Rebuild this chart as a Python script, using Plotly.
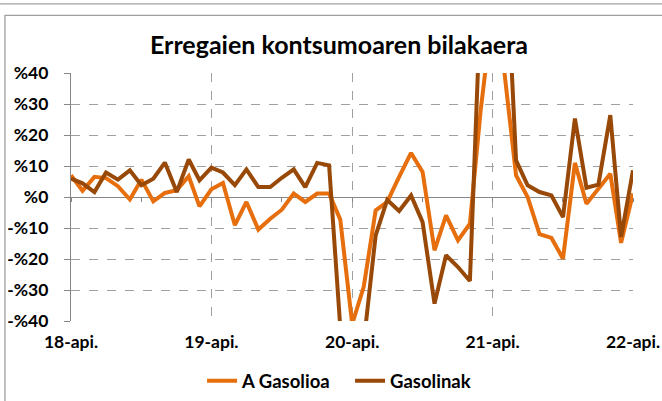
import plotly.graph_objects as go
import pandas as pd

dates = pd.date_range("2018-04-01", "2022-04-01", freq="MS")

a_gasolioa = [7.0, 2.0, 6.5, 6.1, 3.5, -0.8, 5.6, -1.4, 1.3, 2.2, 6.7, -3.0,
              2.5, 4.5, -9.1, -1.6, -10.5, -7.0, -4.1, 1.1, -1.6, 1.1, 1.1, -7.3,
              -41.0, -29.0, -4.3, -1.6, 6.5, 14.2, 8.1, -17.2, -5.9, -14.0, -8.6, 28.0,
              60.0, 41.0, 7.0, 0.0, -12.0, -13.2, -19.9, 11.0, -2.2, 2.7, 7.5, -14.8,
              1.1]
gasolinak = [5.9, 4.4, 1.6, 7.9, 5.6, 8.6, 3.8, 5.9, 11.1, 1.6, 12.1, 5.4,
             9.5, 7.9, 3.8, 8.9, 3.2, 3.2, 6.2, 8.9, 3.2, 11.0, 10.2, -42.0,
             -75.0, -47.0, -12.4, -0.9, -4.5, 0.5, -8.1, -34.4, -18.8, -22.6, -27.1, 64.0,
             240.0, 92.0, 11.8, 3.8, 1.6, 0.5, -6.5, 25.3, 3.0, 4.0, 26.4, -12.9,
             8.6]

x_tickvals = ["2018-04-01", "2019-04-01", "2020-04-01", "2021-04-01", "2022-04-01"]
x_ticktext = ["18-api.", "19-api.", "20-api.", "21-api.", "22-api."]
minor_tickvals = pd.date_range("2018-04-01", "2022-04-01", freq="6MS")
y_tickvals = [40, 30, 20, 10, 0, -10, -20, -30, -40]
y_ticktext = ["%40", "%30", "%20", "%10", "%0", "-%10", "-%20", "-%30", "-%40"]

ORANGE = "#E66E0C"
BROWN = "#984807"
GRID = "#A0A0A0"
AXIS = "#868686"
FONT = "Lato"

W, H = 662, 401
L, R, T, B = 71, 632.7, 72.7, 320.7
PW, PH = R - L, B - T

def px_x(p):
    return (p - L) / PW

def px_y(p):
    return (B - p) / PH

fig = go.Figure()
fig.add_trace(go.Scatter(x=dates, y=a_gasolioa, name="A Gasolioa", mode="lines",
                         line=dict(color=ORANGE, width=4)))
fig.add_trace(go.Scatter(x=dates, y=gasolinak, name="Gasolinak", mode="lines",
                         line=dict(color=BROWN, width=4)))
# helper trace for the tick axis on the zero line
fig.add_trace(go.Scatter(x=[dates[0]], y=[None], xaxis="x2", showlegend=False,
                         hoverinfo="skip", mode="lines"))

fig.update_layout(
    width=W, height=H,
    margin=dict(l=L, r=W - R, t=T, b=H - B, pad=0, autoexpand=False),
    paper_bgcolor="white", plot_bgcolor="white",
    font=dict(family=FONT, size=17.5, color="black", weight="bold"),
    title=dict(text="Erregaien kontsumoaren bilakaera", x=339 / W, xref="container",
               xanchor="center", y=1 - 45 / H, yref="container", yanchor="middle",
               font=dict(family=FONT, size=25, color="black", weight="bold")),
    showlegend=True,
    legend=dict(orientation="h", x=px_x(202), xanchor="left", y=px_y(381),
                yanchor="middle", font=dict(family=FONT, size=18.5, weight="bold"),
                itemwidth=30, tracegroupgap=0, entrywidth=103),
    xaxis=dict(type="date", range=["2018-04-01", "2022-04-01"],
               tickvals=x_tickvals, ticktext=x_ticktext, ticks="",
               showgrid=True, gridcolor=GRID, griddash="dash", gridwidth=1.4,
               showline=False, zeroline=False, ticklabelstandoff=8,
               tickfont=dict(family=FONT, size=17.5, weight="bold")),
    xaxis2=dict(type="date", range=["2018-04-01", "2022-04-01"], overlaying="x",
                anchor="free", position=0.5, side="bottom",
                tickvals=minor_tickvals, ticks="outside", ticklen=4, tickwidth=1.3,
                tickcolor=AXIS, showticklabels=False, showgrid=False,
                showline=False, zeroline=False),
    yaxis=dict(range=[-40, 40], tickvals=y_tickvals, ticktext=y_ticktext,
               ticks="outside", ticklen=6, tickwidth=1.3, tickcolor=AXIS,
               showline=True, linecolor=AXIS, linewidth=1.3,
               showgrid=True, gridcolor=GRID, griddash="dash", gridwidth=1.4,
               zeroline=True, zerolinecolor=AXIS, zerolinewidth=1.3,
               ticklabelstandoff=12,
               tickfont=dict(family=FONT, size=17.5, weight="bold")),
)

# chart-area frame (Excel style) and the rule above it
fig.add_shape(type="rect", xref="paper", yref="paper",
              x0=px_x(5), x1=px_x(680), y0=px_y(420), y1=px_y(15),
              line=dict(color="#A0A0A0", width=1.3), layer="below")
fig.add_shape(type="line", xref="paper", yref="paper",
              x0=px_x(0), x1=px_x(662), y0=px_y(3.5), y1=px_y(3.5),
              line=dict(color="#A0A0A0", width=1.3))

fig.write_html("out.html", config={"displayModeBar": False},
               post_script="document.body.style.margin='0';document.body.style.padding='0';")
